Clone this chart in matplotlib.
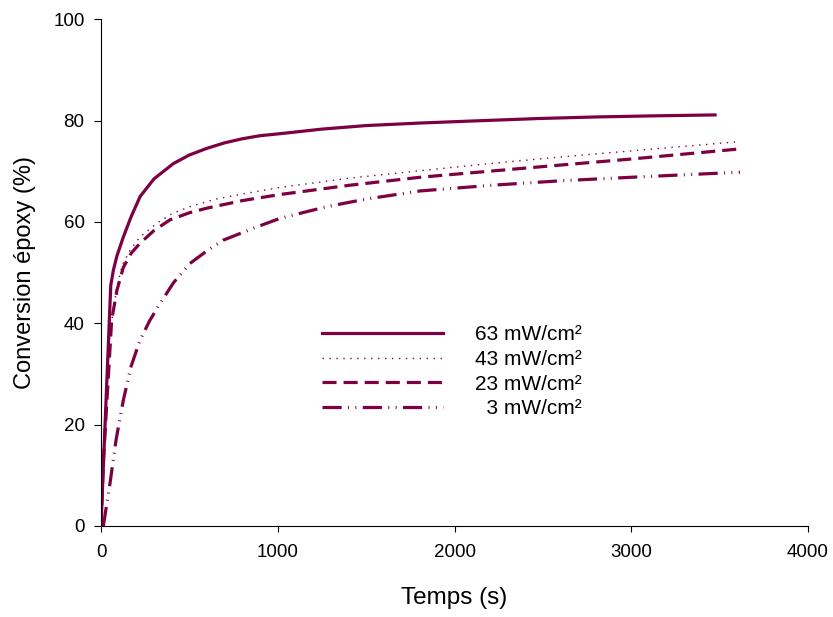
import matplotlib
matplotlib.use('Agg')
import matplotlib.pyplot as plt

plt.rcParams['font.family'] = ['Liberation Sans', 'DejaVu Sans']

couleur = '#7d0042'

# 63 mW/cm²
temps63 = [0, 13, 55, 70, 90, 126, 170, 221, 300, 409, 500, 598, 700, 800, 900, 1013,
           1250, 1500, 1805, 2100, 2484, 2800, 3100, 3474]
conv63 = [0, 11.7, 47.5, 50.5, 53.3, 57, 61, 65, 68.5, 71.5, 73.2, 74.5, 75.6, 76.4, 77,
          77.4, 78.3, 79, 79.5, 79.9, 80.4, 80.7, 80.9, 81.1]

# 43 mW/cm²
temps43 = [0, 10, 50, 89, 120, 164, 220, 315, 400, 503, 650, 800, 1013, 1400, 1805, 2200,
           2597, 3000, 3598]
conv43 = [0, 13, 38, 47, 51.5, 54.4, 57, 59.7, 61.6, 63, 64.5, 65.5, 66.8, 68.6, 70.1,
          71.5, 72.8, 74, 75.8]

# 23 mW/cm²
temps23 = [0, 12, 60, 90, 126, 170, 221, 300, 390, 500, 598, 800, 1013, 1400, 1805, 2200,
           2597, 3000, 3615]
conv23 = [0, 12, 40.6, 46.5, 51, 53.8, 55.8, 58.3, 60.4, 61.8, 62.7, 64.2, 65.4, 67.2,
          68.8, 70, 71.2, 72.4, 74.4]

# 3 mW/cm²
temps3 = [13, 51, 85, 126, 170, 221, 275, 334, 410, 503, 600, 692, 881, 1013, 1277, 1500,
          1805, 2200, 2597, 3000, 3615]
conv3 = [0, 8.5, 17, 24.8, 31.5, 36.7, 40.5, 43.9, 48, 51.8, 54.3, 56.4, 59, 60.7, 63,
         64.5, 66.1, 67.2, 68.1, 68.8, 69.8]

fig = plt.figure(figsize=(8.33, 6.17), dpi=100)
ax = fig.add_axes([0.1213, 0.1475, 0.8487, 0.8215])

ax.plot(temps63, conv63, color=couleur, lw=2.3, label='63 mW/cm²')
ax.plot(temps43, conv43, color=couleur, lw=1.0, ls=(0, (1, 4)), label='43 mW/cm²')
ax.plot(temps23, conv23, color=couleur, lw=2.3, ls=(0, (4.4, 2.2)), label='23 mW/cm²')
ax.plot(temps3, conv3, color=couleur, lw=2.3, ls=(0, (6, 2, 0.3, 2, 0.3, 2)), label='  3 mW/cm²')

ax.set_xlim(0, 4000)
ax.set_ylim(0, 100)
ax.set_xticks([0, 1000, 2000, 3000, 4000])
ax.set_yticks([0, 20, 40, 60, 80, 100])
ax.spines['top'].set_visible(False)
ax.spines['right'].set_visible(False)
ax.tick_params(axis='x', labelsize=13.5, direction='out', length=4.5, pad=8.5)
ax.tick_params(axis='y', labelsize=13.5, direction='out', length=4.7, pad=7.2)
ax.set_xlabel('Temps (s)', fontsize=17.5, labelpad=19)
ax.set_ylabel('Conversion époxy (%)', fontsize=17, labelpad=12)

ax.legend(loc='upper left', bbox_to_anchor=(0.3126, 0.396), frameon=False, fontsize=15,
          handlelength=5.8, handletextpad=1.55, labelspacing=0.27,
          borderpad=0, borderaxespad=0)

fig.savefig('out.png', dpi=100)
